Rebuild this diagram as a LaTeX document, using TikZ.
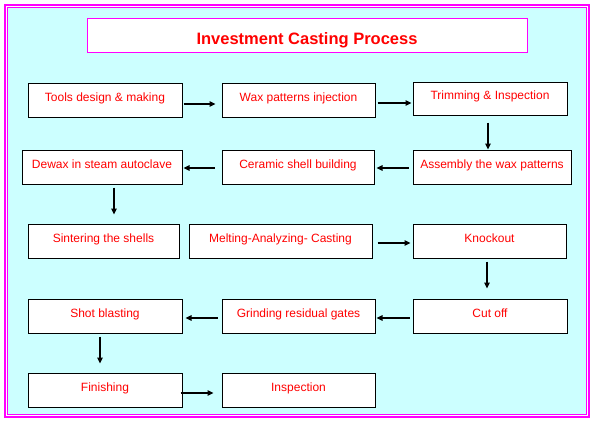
\documentclass[tikz,border=0pt]{standalone}
\usepackage{fontspec}
\setmainfont{Liberation Sans}
\usetikzlibrary{arrows.meta}
\definecolor{bgcyan}{HTML}{CCFFFF}
\definecolor{frame}{HTML}{FF00FF}
\definecolor{txtred}{HTML}{FF0000}
\tikzset{
  stepbox/.style={draw=black, line width=1pt, fill=white, inner xsep=0pt, inner ysep=0pt,
    text height=10pt, text depth=8pt, text=txtred, font=\fontsize{12}{14}\selectfont},
  titlebox/.style={draw=frame, line width=1pt, fill=white, inner xsep=0pt, inner ysep=0pt,
    text height=20pt, text depth=2pt, text=txtred, font=\fontsize{16.5}{19}\selectfont\bfseries},
  arr/.style={line width=1.2pt, -{Triangle[length=6pt,width=5.5pt]}}
}
\begin{document}
\begin{tikzpicture}[x=1pt,y=-1pt]
\useasboundingbox (0,0) rectangle (594,423);
\fill[white] (0,0) rectangle (594,423);
\draw[frame, line width=2pt] (5,5) rectangle (588.5,417);
\draw[frame, line width=1pt, fill=bgcyan] (7.5,7.5) rectangle (586,414.5);

\node[titlebox, minimum width=440pt, minimum height=34pt] (title) at (307,35) {Investment Casting Process};

\node[stepbox, minimum width=154pt, minimum height=34pt] (tools) at (105,100) {Tools design \& making};
\node[stepbox, minimum width=153pt, minimum height=34pt] (wax) at (298.5,100) {Wax patterns injection};
\node[stepbox, minimum width=154pt, minimum height=33pt] (trim) at (490,98.5) {Trimming \& Inspection};
\node[stepbox, minimum width=158pt, minimum height=34pt] (assy) at (492,167) {Assembly the wax patterns};
\node[stepbox, minimum width=152pt, minimum height=34pt] (ceramic) at (298,167) {Ceramic shell building};
\node[stepbox, minimum width=160pt, minimum height=34pt] (dewax) at (102,167) {Dewax in steam autoclave};
\node[stepbox, minimum width=151pt, minimum height=34pt] (sinter) at (103.5,241) {Sintering the shells};
\node[stepbox, minimum width=183pt, minimum height=34pt] (melt) at (280.5,241) {Melting-Analyzing- Casting};
\node[stepbox, minimum width=153pt, minimum height=34pt] (knock) at (489.5,241) {Knockout};
\node[stepbox, minimum width=154pt, minimum height=34pt] (cutoff) at (490,316) {Cut off};
\node[stepbox, minimum width=153pt, minimum height=34pt] (grind) at (298.5,316) {Grinding residual gates};
\node[stepbox, minimum width=154pt, minimum height=34pt] (shot) at (105,316) {Shot blasting};
\node[stepbox, minimum width=154pt, minimum height=34pt] (finish) at (105,390) {Finishing};
\node[stepbox, minimum width=153pt, minimum height=34pt] (insp) at (298.5,390) {Inspection};

\draw[arr] ([shift={(1pt,-4pt)}]tools.east) -- ([shift={(-6pt,-4pt)}]wax.west);
\draw[arr] ([shift={(2pt,-3pt)}]wax.east) -- ([shift={(-1pt,-4.5pt)}]trim.west);
\draw[arr] ([shift={(-2pt,-7pt)}]trim.south) -- ([shift={(-4pt,0pt)}]assy.north);
\draw[arr] ([shift={(-4pt,-1pt)}]assy.west) -- ([shift={(2pt,-1pt)}]ceramic.east);
\draw[arr] ([shift={(-7pt,-1pt)}]ceramic.west) -- ([shift={(1pt,-1pt)}]dewax.east);
\draw[arr] ([shift={(12pt,-3pt)}]dewax.south) -- ([shift={(10.5pt,9pt)}]sinter.north);
\draw[arr] ([shift={(5pt,-2pt)}]melt.east) -- ([shift={(-2pt,-2pt)}]knock.west);
\draw[arr] ([shift={(-2.5pt,-3pt)}]knock.south) -- ([shift={(-3pt,10pt)}]cutoff.north);
\draw[arr] ([shift={(-3pt,-2pt)}]cutoff.west) -- ([shift={(1pt,-2pt)}]grind.east);
\draw[arr] ([shift={(-4pt,-2pt)}]grind.west) -- ([shift={(3pt,-2pt)}]shot.east);
\draw[arr] ([shift={(-5pt,-3pt)}]shot.south) -- ([shift={(-5pt,9pt)}]finish.north);
\draw[arr] ([shift={(-2pt,-3pt)}]finish.east) -- ([shift={(-8pt,-3pt)}]insp.west);
\end{tikzpicture}
\end{document}
